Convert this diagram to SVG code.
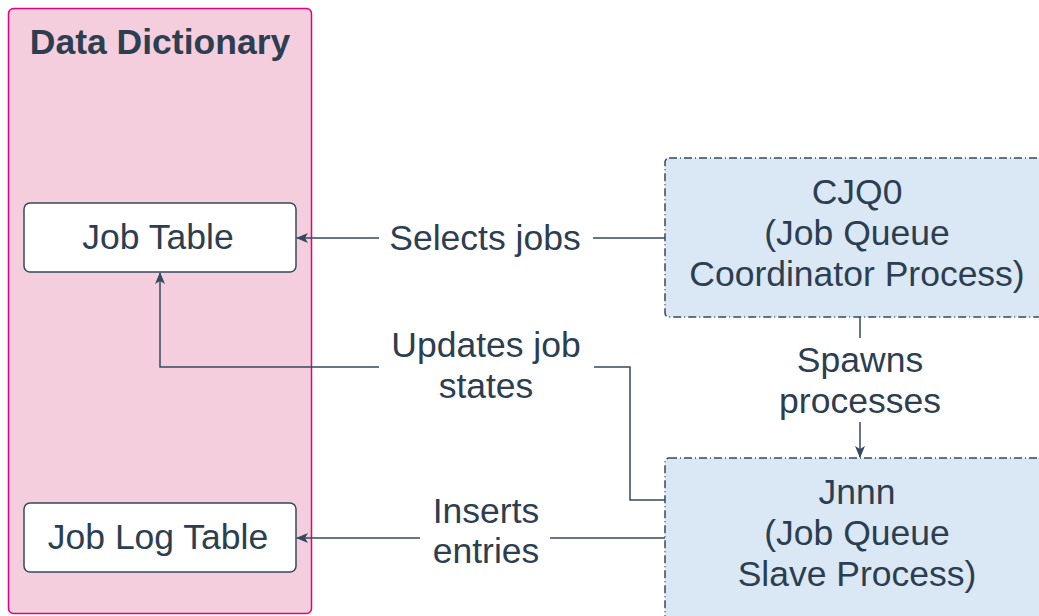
<svg xmlns="http://www.w3.org/2000/svg" width="1039" height="616" viewBox="0 0 1039 616">
<style>
text{font-family:"Liberation Sans",Arial,sans-serif;font-size:35.5px;fill:#2c3e50;text-anchor:middle}
.title{font-weight:bold}
.tbl{fill:#ffffff;stroke:#34495e;stroke-width:1.5}
.proc{fill:#dae8f5;stroke:#34495e;stroke-width:1.5;stroke-dasharray:8 3 1 3}
.edge{fill:none;stroke:#34495e;stroke-width:1.5}
.lbl{fill:#ffffff}
</style>
<defs>
<marker id="arr" viewBox="0 0 12 10" refX="11" refY="5" markerWidth="12" markerHeight="10" markerUnits="userSpaceOnUse" orient="auto">
<path d="M0,0 L12,5 L0,10 L3,5 Z" fill="#34495e"/>
</marker>
</defs>
<rect width="1039" height="616" fill="#ffffff"/>
<g id="data-dictionary">
<rect x="8.5" y="8.5" width="303" height="605" rx="5" fill="#f5cedd" stroke="#e6007e" stroke-width="1.5"/>
<text class="title" x="160" y="54">Data Dictionary</text>
</g>
<g id="job-table">
<rect class="tbl" x="24" y="203" width="272" height="69" rx="6"/>
<text x="158" y="249">Job Table</text>
</g>
<g id="job-log-table">
<rect class="tbl" x="24" y="503" width="272" height="69" rx="6"/>
<text x="158" y="549">Job Log Table</text>
</g>
<g id="cjq0">
<rect class="proc" x="665" y="158" width="390" height="159" rx="4"/>
<text x="857" y="204">CJQ0</text>
<text x="857" y="245">(Job Queue</text>
<text x="857" y="286">Coordinator Process)</text>
</g>
<g id="jnnn">
<rect class="proc" x="665" y="458" width="390" height="170" rx="4"/>
<text x="857" y="504">Jnnn</text>
<text x="857" y="545">(Job Queue</text>
<text x="857" y="586">Slave Process)</text>
</g>
<g id="connectors">
<path class="edge" d="M665,238 H297" marker-end="url(#arr)"/>
<rect class="lbl" x="379" y="218" width="214" height="40"/>
<text x="485" y="250">Selects jobs</text>
<path class="edge" d="M665,500 H630 V367 H160 V273" marker-end="url(#arr)"/>
<rect class="lbl" x="379" y="328" width="215" height="80"/>
<text x="486" y="357">Updates job</text>
<text x="486" y="398">states</text>
<path class="edge" d="M665,538 H297" marker-end="url(#arr)"/>
<rect class="lbl" x="420" y="496" width="130" height="80"/>
<text x="486" y="523">Inserts</text>
<text x="486" y="563">entries</text>
<path class="edge" d="M860,317 V457" marker-end="url(#arr)"/>
<rect class="lbl" x="770" y="338" width="180" height="84"/>
<text x="860" y="372">Spawns</text>
<text x="860" y="413">processes</text>
</g>
</svg>
